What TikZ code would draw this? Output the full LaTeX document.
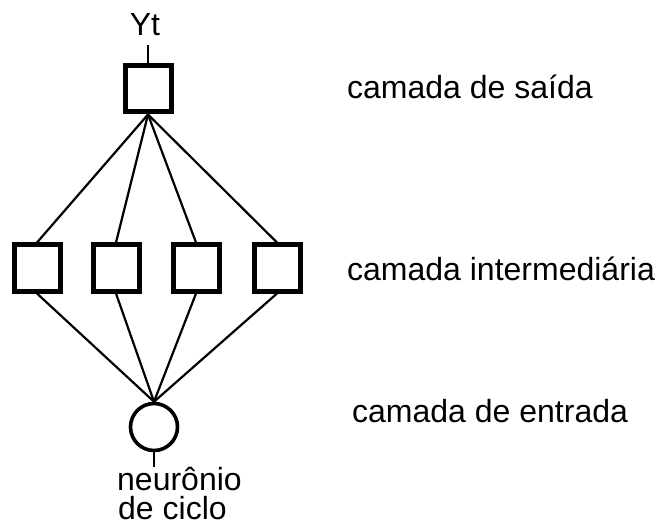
\documentclass[tikz,border=0pt]{standalone}
\usepackage{fontspec}
\setmainfont{Liberation Sans}
\begin{document}
\begin{tikzpicture}[x=1pt,y=-1pt,
  unit/.style={draw, line width=5pt, minimum size=46pt, inner sep=0pt, fill=white},
  cyclenode/.style={draw, circle, line width=3.6pt, minimum size=47pt, inner sep=0pt},
  link/.style={line width=2.2pt},
  caption/.style={inner sep=0pt, font=\fontsize{32}{30}\selectfont}]
\useasboundingbox (0,0) rectangle (660,526);

% output layer
\node[unit] (out) at (148,89) {};
\coordinate (yt) at (148,45);
\node[caption, anchor=base] (ytlabel) at (145,36) {Yt};

% hidden layer
\node[unit] (h1) at (37,268) {};
\node[unit] (h2) at (116,268) {};
\node[unit] (h3) at (196,268) {};
\node[unit] (h4) at (277,268) {};

% input (cycle) neuron
\node[cyclenode] (inp) at (154,427) {};
\coordinate (inpstem) at (154,467);

% connections
\draw[link] (out.north) -- (yt);
\foreach \h in {h1,h2,h3,h4} {
  \draw[link] (out.south) -- (\h.north);
  \draw[link] (\h.south) -- (inp.north);
}
\draw[link] (inp.south) -- (inpstem);

% labels
\node[caption, anchor=base west] (cyc1) at (117,490) {neurônio};
\node[caption, anchor=base west, text depth=0pt] (cyc2) at (118,519) {de ciclo};
\node[caption, anchor=base west] (lout) at (347,99) {camada de saída};
\node[caption, anchor=base west] (lhid) at (347,280) {camada intermediária};
\node[caption, anchor=base west] (linp) at (352,422) {camada de entrada};
\end{tikzpicture}
\end{document}
